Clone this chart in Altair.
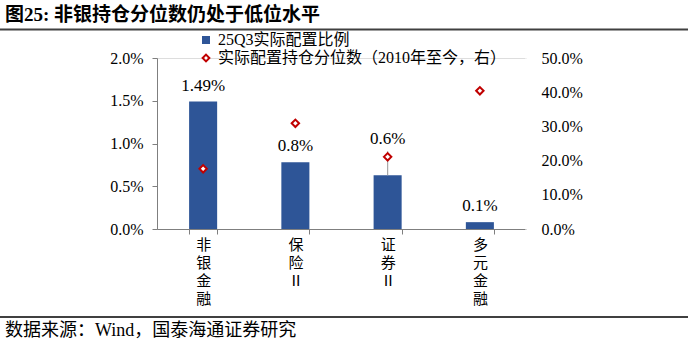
import altair as alt
import pandas as pd

categories = ["非银金融", "保险Ⅱ", "证券Ⅱ", "多元金融"]
alloc = [0.0149, 0.0078, 0.0063, 0.0008]
alloc_labels = ["1.49%", "0.8%", "0.6%", "0.1%"]
percentile = [0.176, 0.309, 0.211, 0.404]
bar_series = "25Q3实际配置比例"
pt_series = "实际配置持仓分位数（2010年至今，右）"
title_text = "图25:  非银持仓分位数仍处于低位水平"
source_text = "数据来源：Wind，国泰海通证券研究"

FONT = "Liberation Serif, Noto Sans CJK SC"
BLUE = "#2E5597"
RED = "#C00000"
AXIS_C = "#7F7F7F"

df = pd.DataFrame({
    "cat": categories,
    "alloc": alloc,
    "label": alloc_labels,
    "pct": percentile,
    "s1": [bar_series] * 4,
    "s2": [pt_series] * 4,
})

xscale = alt.Scale(paddingInner=0.696, paddingOuter=0.348)

x_axis = alt.Axis(title=None, labelAngle=0, tickBand="extent",
                  domainColor=AXIS_C, tickColor=AXIS_C, tickSize=5,
                  labelExpr="split(datum.label, '')",
                  labelFont=FONT, labelFontSize=15, labelLineHeight=18,
                  labelBaseline="top", labelPadding=3, labelColor="#000")
x_enc = alt.X("cat:N", sort=categories, scale=xscale, axis=x_axis)

yl = alt.Scale(domain=[0, 0.02])
yl_axis = alt.Axis(title=None, format=".1%", values=[0, 0.005, 0.01, 0.015, 0.02],
                   grid=False, domainColor=AXIS_C, tickColor=AXIS_C, tickSize=5,
                   labelPadding=9, labelFont=FONT, labelFontSize=16, labelColor="#000")

base = alt.Chart(df)

bars = base.mark_bar(color=BLUE).encode(
    x=x_enc,
    y=alt.Y("alloc:Q", scale=yl, axis=yl_axis),
    fill=alt.Fill("s1:N", scale=alt.Scale(range=[BLUE]),
                  legend=alt.Legend(title=None, orient="none", legendX=41, legendY=-26,
                                    symbolType="square", symbolSize=64, labelLimit=0,
                                    labelFont=FONT, labelFontSize=16, labelColor="#000",
                                    labelOffset=4)),
)

labels_main = base.transform_filter(alt.datum.cat != "证券Ⅱ").mark_text(
    dy=-16, font=FONT, fontSize=17, baseline="middle", color="#000"
).encode(x=x_enc, y=alt.Y("alloc:Q", scale=yl), text="label:N")

labels_lift = base.transform_filter(alt.datum.cat == "证券Ⅱ").mark_text(
    dy=-36, font=FONT, fontSize=17, baseline="middle", color="#000"
).encode(x=x_enc, y=alt.Y("alloc:Q", scale=yl), text="label:N")

leader = base.transform_filter(alt.datum.cat == "证券Ⅱ").mark_rule(
    color="#A6A6A6", strokeWidth=1.2, y2Offset=-24
).encode(x=x_enc, y=alt.Y("alloc:Q", scale=yl), y2="alloc:Q")

points = base.mark_point(shape="diamond", filled=False, fill="white", fillOpacity=1,
                         strokeWidth=2, size=55).encode(
    x=x_enc,
    y=alt.Y("pct:Q", scale=alt.Scale(domain=[0, 0.5]),
            axis=alt.Axis(title=None, orient="right", format=".1%",
                          values=[0, 0.1, 0.2, 0.3, 0.4, 0.5], grid=False,
                          domainColor="white", domainWidth=3, ticks=False, labelPadding=15,
                          labelFont=FONT, labelFontSize=16, labelColor="#000")),
    stroke=alt.Stroke("s2:N", scale=alt.Scale(range=[RED]),
                      legend=alt.Legend(title=None, orient="none", legendX=41, legendY=-8,
                                        symbolType="diamond", symbolSize=45, labelLimit=0,
                                        symbolFillColor="white", symbolStrokeWidth=2,
                                        labelFont=FONT, labelFontSize=16, labelColor="#000",
                                        labelOffset=4)),
)

one = pd.DataFrame({"t": [title_text]})
title_mark = alt.Chart(one).mark_text(
    align="left", baseline="middle", font=FONT, fontSize=19, fontWeight="bold", color="#000"
).encode(text="t:N", x=alt.value(-152), y=alt.value(-43))

src = pd.DataFrame({"t": [source_text]})
source_mark = alt.Chart(src).mark_text(
    align="left", baseline="middle", font=FONT, fontSize=18, color="#000"
).encode(text="t:N", x=alt.value(-152), y=alt.value(273))

top_line = alt.Chart(one).mark_rule(color="#404040", strokeWidth=2).encode(
    x=alt.value(-157), x2=alt.value(531), y=alt.value(-28.5))
bottom_line = alt.Chart(one).mark_rule(color="#404040", strokeWidth=2).encode(
    x=alt.value(-157), x2=alt.value(531), y=alt.value(259))

left = alt.layer(bars, leader, labels_main, labels_lift)
chart = alt.layer(left, points, title_mark, source_mark, top_line, bottom_line).resolve_scale(
    y="independent", fill="independent", stroke="independent"
).properties(
    width=369, height=171,
    autosize=alt.AutoSizeParams(type="none"),
    padding={"left": 157, "top": 58, "right": 166, "bottom": 114},
).configure_view(stroke="transparent", strokeWidth=0).configure(background="white")

chart.save("out.html", embed_options={"renderer": "svg", "actions": False})
